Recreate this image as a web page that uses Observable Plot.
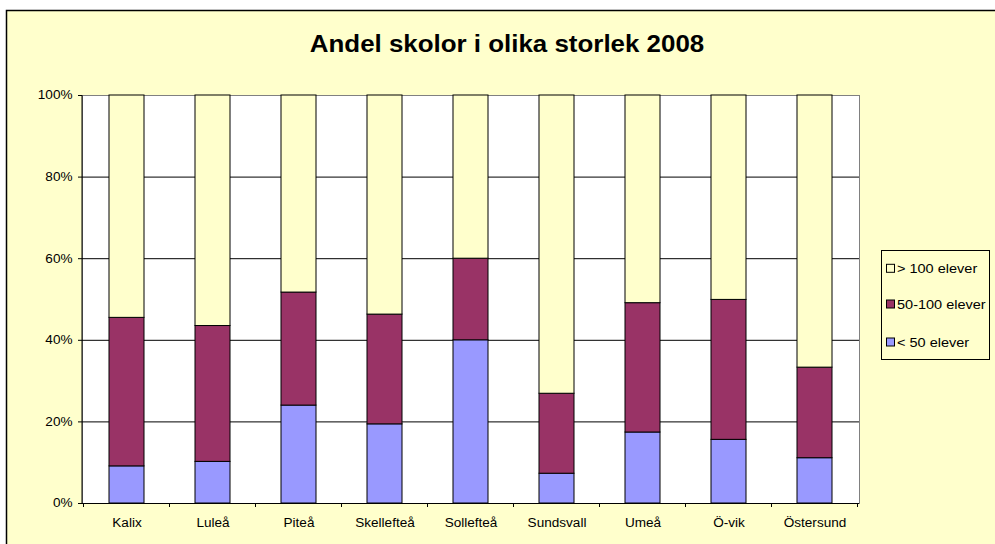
<!DOCTYPE html>
<html>
<head>
<meta charset="utf-8">
<script src="https://cdn.jsdelivr.net/npm/d3@7"></script>
<script src="https://cdn.jsdelivr.net/npm/@observablehq/plot@0.6"></script>
<style>
  html, body { margin: 0; padding: 0; background: #fff; }
  #chart { position: relative; width: 995px; height: 544px; overflow: hidden; }
</style>
</head>
<body>
<div id="chart"></div>
<script>
const categories = ["Kalix","Luleå","Piteå","Skellefteå","Sollefteå","Sundsvall","Umeå","Ö-vik","Östersund"];
const seriesNames = ["< 50 elever","50-100 elever","> 100 elever"];
const seriesColors = ["#9999FF","#993366","#FFFFCC"];
const small  = [9.1, 10.2, 24.0, 19.4, 40.0, 7.3, 17.4, 15.6, 11.1];
const medium = [36.4, 33.3, 27.7, 26.9, 20.0, 19.6, 31.7, 34.3, 22.2];
const large  = [54.5, 56.5, 48.3, 53.7, 40.0, 73.1, 50.9, 50.1, 66.7];
const yTicks = [0, 20, 40, 60, 80, 100];
const gridTicks = [20, 40, 60, 80];
const titleText = "Andel skolor i olika storlek 2008";

const FONT = "'Liberation Sans', Arial, Helvetica, sans-serif";
const seriesValues = [small, medium, large];
const rows = [];
categories.forEach((c, i) => {
  seriesNames.forEach((s, j) => rows.push({cat: c, series: s, value: seriesValues[j][i]}));
});

// category boundary ticks below the x axis, positioned from the band scale
function boundaryTicks(index, scales, values, dimensions) {
  const x = scales.x;
  const step = x.step();
  const ns = "http://www.w3.org/2000/svg";
  const g = document.createElementNS(ns, "g");
  const y0 = dimensions.height - dimensions.marginBottom;
  const xs = categories.map(c => x(c) + x.bandwidth() / 2 - step / 2);
  xs.push(x(categories[categories.length - 1]) + x.bandwidth() / 2 + step / 2);
  for (const xv of xs) {
    const l = document.createElementNS(ns, "line");
    l.setAttribute("x1", xv); l.setAttribute("x2", xv);
    l.setAttribute("y1", y0); l.setAttribute("y2", y0 + 4);
    l.setAttribute("stroke", "#000");
    g.appendChild(l);
  }
  // left axis line
  const l = document.createElementNS(ns, "line");
  l.setAttribute("x1", dimensions.marginLeft); l.setAttribute("x2", dimensions.marginLeft);
  l.setAttribute("y1", scales.y(0)); l.setAttribute("y2", scales.y(100));
  l.setAttribute("stroke", "#000");
  g.appendChild(l);
  return g;
}

const chart = Plot.plot({
  width: 995,
  height: 544,
  marginLeft: 82,
  marginRight: 136,
  marginTop: 95,
  marginBottom: 41,
  style: {background: "transparent", fontFamily: FONT, fontSize: "12px", color: "#000"},
  x: {domain: categories, paddingInner: 0.595, paddingOuter: 0.2975, align: 0.5, label: null},
  y: {domain: [0, 100], label: null},
  color: {domain: seriesNames, range: seriesColors},
  marks: [
    Plot.frame({fill: "white", stroke: "#808080"}),
    Plot.ruleY(gridTicks, {stroke: "#000", strokeWidth: 1}),
    Plot.barY(rows, Plot.stackY({
      x: "cat", y: "value", fill: "series", order: seriesNames,
      stroke: "#000", strokeWidth: 1
    })),
    Plot.ruleY([0], {stroke: "#000"}),
    Plot.axisY({ticks: yTicks, tickSize: 4, tickPadding: 6, tickFormat: d => d + "%", label: null, fontSize: 12}),
    Plot.axisX({tickSize: 0, tickPadding: 15, label: null, fontSize: 12}),
    boundaryTicks
  ]
});
document.getElementById("chart").appendChild(chart);

const svg = d3.select(chart);
svg.selectAll("[aria-label='y-axis tick label'] text, [aria-label='x-axis tick label'] text").classed("axt", true);

// outer chart frame (background)
svg.insert("rect", ":first-child")
  .attr("x", 6.5).attr("y", 10.5).attr("width", 1200).attr("height", 800)
  .attr("fill", "#FFFFCC").attr("stroke", "#000").attr("stroke-width", 1.5);

// title
svg.append("text")
  .attr("class", "ttl")
  .attr("x", 507).attr("y", 51.5)
  .attr("text-anchor", "middle")
  .attr("font-family", FONT).attr("font-size", 23).attr("font-weight", "bold")
  .attr("fill", "#000")
  .text(titleText);

// legend
const lg = svg.append("g").attr("text-anchor", "start");
lg.append("rect").attr("x", 881.5).attr("y", 250.5).attr("width", 108).attr("height", 109)
  .attr("fill", "#FFFFCC").attr("stroke", "#000");
const order = [2, 1, 0];
const centers = [268.3, 304, 342];
order.forEach((j, k) => {
  lg.append("rect").attr("x", 886.5).attr("y", centers[k] - 4).attr("width", 8).attr("height", 8)
    .attr("fill", seriesColors[j]).attr("stroke", "#000");
  lg.append("text").attr("class", "lgt")
    .attr("x", 897).attr("y", centers[k]).attr("dy", "0.36em")
    .attr("text-anchor", "start")
    .attr("font-family", FONT).attr("font-size", 12.5).attr("fill", "#000")
    .text(seriesNames[j]);
});

// the reference text is horizontally wider than plain Arial: stretch glyphs
function stretch(sel, f) {
  svg.selectAll(sel).each(function() {
    const len = this.getComputedTextLength();
    this.setAttribute("textLength", (len * f).toFixed(2));
    this.setAttribute("lengthAdjust", "spacingAndGlyphs");
  });
}
stretch(".axt", 1.13);
stretch(".lgt", 1.16);
stretch(".ttl", 1.126);
</script>
</body>
</html>
